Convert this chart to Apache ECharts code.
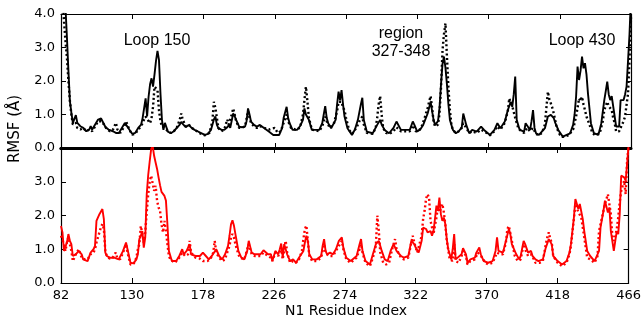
<!DOCTYPE html>
<html>
<head>
<meta charset="utf-8">
<script src="https://cdn.jsdelivr.net/npm/echarts@6.0.0/dist/echarts.min.js"></script>
<style>
  html, body { margin: 0; padding: 0; background: #fff; }
  #chart { width: 644px; height: 320px; }
</style>
</head>
<body>
<div id="chart"></div>
<script>
// residue ticks on the shared x axis
const residueTicks = [82, 130, 178, 226, 274, 322, 370, 418, 466]
const rmsfTicks = [0, 1, 2, 3, 4]

// top panel (black): [residue, RMSF in Å]
const topSolid = [[82,5.5],[84,4.8],[85,4.2],[86,3.3],[87,2.3],[88,1.4],[89,1.05],[90,0.75],[91,0.75],[92,0.98],[93,0.75],[94,0.8],[95,0.65],[97,0.6],[99,0.5],[101,0.55],[102,0.65],[103,0.55],[105,0.7],[107,0.85],[109,0.88],[110,0.85],[112,0.62],[114,0.55],[117,0.5],[119,0.45],[121,0.45],[123,0.6],[125,0.75],[126,0.8],[128,0.55],[130,0.42],[132,0.45],[134,0.6],[136,0.7],[137,0.9],[139,1.48],[140,0.94],[141,1.53],[142,1.9],[143,2.08],[144,1.83],[145,2.2],[146,2.6],[147,2.9],[148,2.63],[149,1.63],[150,0.84],[151,0.54],[152,0.75],[153,0.79],[154,0.49],[156,0.44],[158,0.5],[160,0.6],[162,0.7],[163,0.78],[164,0.72],[166,0.62],[168,0.69],[170,0.6],[172,0.54],[174,0.5],[176,0.45],[179,0.39],[181,0.42],[183,0.54],[185,0.85],[186,0.94],[187,0.7],[188,0.59],[190,0.55],[192,0.54],[194,0.62],[195,0.68],[196,0.6],[198,1.03],[199,0.95],[200,0.84],[202,0.64],[204,0.62],[206,0.64],[207,0.8],[208,1.18],[209,1.0],[210,0.79],[212,0.69],[214,0.64],[216,0.69],[219,0.59],[222,0.49],[225,0.39],[229,0.39],[231,0.6],[232,0.9],[234,1.23],[235,0.9],[236,0.74],[238,0.54],[241,0.54],[243,0.65],[245,0.84],[246,1.18],[247,1.0],[249,0.84],[251,0.54],[256,0.54],[258,0.74],[259,1.0],[260,1.25],[261,0.9],[262,0.74],[264,0.59],[267,0.84],[268,1.3],[269,1.68],[270,1.43],[271,1.73],[272,1.3],[273,0.94],[275,0.59],[278,0.39],[280,0.55],[282,0.84],[284,1.3],[285,1.5],[286,0.84],[288,0.49],[292,0.44],[295,0.69],[297,0.84],[298,0.7],[300,0.54],[303,0.44],[306,0.6],[308,0.79],[311,0.54],[317,0.54],[319,0.79],[320,0.7],[322,0.49],[324,0.55],[326,0.69],[329,1.03],[331,1.38],[332,1.1],[333,0.84],[334,0.69],[336,0.8],[337,1.2],[338,1.9],[339,2.5],[340,2.73],[341,2.4],[342,1.9],[343,1.3],[344,0.84],[346,0.54],[348,0.44],[350,0.5],[352,0.62],[353,1.03],[355,0.69],[357,0.44],[359,0.54],[362,0.49],[365,0.64],[367,0.54],[371,0.39],[374,0.54],[376,0.74],[378,0.59],[381,0.79],[383,1.13],[385,1.38],[386,1.23],[387,1.6],[388,2.13],[389,0.84],[391,0.54],[394,0.49],[395,0.74],[398,0.54],[399,0.8],[400,1.13],[401,0.6],[402,0.44],[404,0.39],[408,0.59],[410,0.94],[412,0.99],[414,0.89],[415,0.75],[417,0.54],[420,0.34],[425,0.44],[427,0.69],[428,1.0],[429,1.53],[430,2.43],[431,2.03],[432,2.3],[433,2.73],[434,2.38],[435,2.53],[436,2.2],[437,1.63],[439,0.74],[441,0.44],[444,0.39],[446,0.74],[448,1.43],[449,1.7],[450,1.98],[451,1.6],[452,1.43],[453,1.55],[455,0.94],[456,0.64],[458,0.64],[459,1.43],[461,1.43],[462,1.6],[463,1.83],[464,2.6],[465,3.4],[466,4.5]]

const topDotted = [[82,5.0],[83,4.5],[84,3.8],[85,3.2],[86,2.7],[87,2.0],[88,1.4],[89,1.0],[90,0.7],[91,0.65],[92,0.75],[93,0.6],[95,0.55],[97,0.6],[99,0.5],[101,0.55],[103,0.5],[105,0.65],[107,0.8],[109,0.8],[111,0.7],[113,0.55],[115,0.5],[117,0.55],[119,0.75],[120,0.55],[122,0.45],[124,0.6],[126,0.78],[128,0.55],[130,0.4],[132,0.42],[134,0.55],[136,0.65],[138,0.85],[139,0.94],[140,0.9],[141,0.8],[142,0.74],[143,0.89],[144,1.23],[145,1.83],[146,1.88],[147,1.73],[148,1.13],[149,0.8],[150,0.64],[152,0.6],[154,0.5],[156,0.45],[158,0.5],[160,0.6],[162,0.85],[163,1.03],[164,0.85],[166,0.65],[168,0.7],[170,0.6],[172,0.55],[175,0.45],[179,0.38],[182,0.45],[184,0.8],[185,1.38],[186,1.2],[187,0.9],[188,0.6],[190,0.5],[192,0.55],[194,0.85],[195,0.7],[196,0.65],[197,1.0],[198,1.18],[199,1.0],[200,0.8],[202,0.6],[204,0.6],[206,0.65],[208,1.1],[209,0.9],[210,0.75],[212,0.65],[214,0.6],[216,0.65],[219,0.6],[222,0.55],[224,0.58],[226,0.6],[228,0.45],[230,0.5],[232,0.75],[234,1.0],[235,0.8],[237,0.6],[240,0.55],[243,0.6],[245,1.0],[246,1.43],[247,1.83],[248,1.4],[249,0.9],[251,0.55],[256,0.5],[258,0.65],[260,0.94],[261,0.8],[263,0.6],[266,0.75],[268,1.1],[269,1.38],[271,1.38],[272,1.2],[273,1.13],[274,0.9],[276,0.55],[278,0.42],[281,0.6],[283,0.8],[285,0.94],[286,0.7],[288,0.45],[292,0.42],[294,0.6],[295,0.9],[296,1.3],[297,1.55],[298,1.0],[299,0.6],[301,0.45],[303,0.42],[306,0.5],[308,0.62],[311,0.5],[317,0.5],[319,0.68],[321,0.5],[323,0.5],[325,0.65],[327,0.9],[329,1.2],[331,1.55],[332,1.2],[333,0.8],[334,0.64],[336,0.7],[337,1.03],[338,1.8],[339,2.9],[340,3.4],[341,3.72],[342,2.73],[343,1.8],[344,1.13],[345,0.7],[346,0.54],[348,0.45],[350,0.5],[352,0.6],[353,0.74],[355,0.6],[357,0.45],[359,0.5],[362,0.45],[365,0.55],[367,0.5],[371,0.38],[374,0.5],[376,0.65],[378,0.55],[381,0.75],[383,1.1],[384,1.48],[385,1.35],[386,1.25],[387,1.2],[388,0.9],[390,0.6],[392,0.5],[394,0.45],[396,0.6],[398,0.5],[400,0.6],[402,0.42],[404,0.38],[406,0.45],[408,0.7],[409,1.2],[410,1.68],[411,1.45],[412,1.33],[413,1.2],[414,1.03],[416,0.6],[418,0.4],[420,0.33],[424,0.38],[427,0.55],[429,0.94],[430,1.2],[431,1.48],[432,1.4],[433,1.53],[434,1.3],[435,1.13],[436,0.94],[438,0.7],[440,0.45],[442,0.38],[445,0.45],[447,0.8],[448,1.13],[450,1.38],[451,1.25],[453,1.13],[454,0.9],[455,0.74],[456,0.49],[458,0.5],[459,0.54],[461,0.8],[462,0.94],[464,1.63],[465,2.63],[466,3.9]]

// bottom panel (red)
const bottomSolid = [[82,1.69],[83,1.5],[84,0.95],[86,1.2],[87,1.45],[88,1.25],[89,1.15],[90,0.8],[92,0.85],[94,0.95],[96,0.85],[97,0.7],[100,0.65],[102,0.9],[104,1.0],[105,1.1],[106,1.84],[108,2.04],[110,2.19],[111,1.89],[112,0.9],[113,0.8],[115,0.75],[118,0.75],[121,0.7],[124,0.95],[126,1.2],[127,1.0],[129,0.6],[131,0.58],[133,0.7],[134,0.85],[135,1.3],[136,1.4],[137,1.54],[138,1.05],[139,1.35],[140,2.63],[141,3.2],[142,3.6],[143,3.97],[144,4.07],[145,3.77],[146,3.57],[147,3.38],[148,3.13],[149,2.9],[150,2.7],[151,2.68],[152,2.58],[153,2.44],[154,1.74],[155,0.95],[157,0.65],[160,0.65],[162,0.8],[163,0.9],[164,1.0],[165,0.85],[167,0.95],[168,0.9],[169,1.15],[170,0.85],[173,0.8],[176,0.8],[178,0.9],[180,0.8],[182,0.7],[184,0.8],[187,1.0],[189,0.8],[191,0.7],[193,0.85],[195,1.1],[196,1.4],[197,1.74],[198,1.86],[199,1.7],[200,1.45],[202,0.95],[204,0.75],[206,0.7],[208,0.95],[209,1.25],[211,0.9],[213,0.85],[217,0.85],[219,0.97],[222,0.85],[224,0.85],[225,0.65],[227,0.95],[229,0.85],[230,1.0],[231,1.17],[232,0.75],[233,1.15],[235,0.85],[237,0.65],[239,0.7],[241,0.6],[243,0.75],[246,0.95],[247,1.2],[248,1.4],[249,1.25],[250,0.85],[252,0.7],[255,0.7],[258,0.8],[259,1.1],[260,1.3],[261,0.95],[262,0.85],[264,0.9],[266,0.85],[268,1.0],[270,1.25],[272,1.35],[273,1.05],[275,0.75],[278,0.65],[282,0.8],[284,1.15],[285,1.3],[286,0.95],[288,0.65],[291,0.55],[293,0.85],[295,1.15],[297,1.25],[299,0.95],[301,0.7],[303,0.65],[305,0.95],[307,1.15],[309,0.95],[312,0.8],[314,0.75],[317,0.8],[319,1.25],[321,1.15],[322,1.05],[324,0.9],[326,1.25],[327,1.64],[329,1.6],[330,1.5],[332,1.54],[333,1.4],[334,1.54],[335,1.9],[336,2.29],[337,2.14],[338,2.53],[339,2.04],[340,1.84],[341,1.94],[342,1.75],[343,1.3],[344,1.0],[345,0.85],[346,0.7],[347,1.0],[348,1.45],[349,0.7],[350,0.65],[353,0.85],[354,1.03],[356,0.85],[357,0.6],[359,0.7],[362,0.75],[363,0.9],[365,1.05],[366,0.85],[368,0.65],[371,0.6],[374,0.65],[376,0.95],[377,1.35],[378,0.95],[381,0.9],[383,1.25],[385,1.6],[386,1.45],[387,1.15],[390,0.85],[392,0.7],[393,0.8],[395,1.25],[396,1.15],[398,0.9],[400,0.95],[401,0.8],[403,0.7],[405,0.65],[408,0.7],[410,1.05],[412,1.3],[414,1.15],[415,0.8],[418,0.65],[421,0.55],[424,0.65],[426,0.9],[427,1.15],[429,1.94],[430,2.49],[432,2.19],[433,2.34],[435,1.89],[436,1.54],[438,0.95],[440,0.8],[443,0.65],[444,0.6],[446,0.95],[447,1.64],[449,2.14],[450,2.44],[452,2.09],[453,2.24],[454,1.54],[456,0.95],[457,1.25],[458,1.54],[459,1.45],[460,2.04],[461,3.18],[463,3.13],[464,3.03],[465,3.52],[466,4.1]]

const bottomDotted = [[82,1.4],[83,1.35],[84,1.15],[85,0.95],[86,1.2],[87,1.35],[88,1.15],[89,0.95],[90,0.65],[92,0.85],[94,1.0],[96,0.75],[98,0.7],[100,0.7],[102,0.85],[104,0.9],[105,1.0],[106,1.2],[107,1.35],[108,1.5],[109,1.65],[110,1.75],[111,1.6],[112,0.95],[113,0.8],[115,0.72],[117,0.75],[119,0.9],[120,0.75],[122,0.7],[124,0.9],[126,1.15],[127,0.9],[129,0.55],[131,0.55],[133,0.75],[134,1.0],[135,1.15],[136,1.69],[137,1.45],[138,1.2],[139,1.5],[140,2.1],[141,2.63],[142,3.0],[143,3.18],[144,3.13],[145,2.73],[146,2.88],[147,2.44],[148,2.24],[149,2.14],[150,1.74],[151,1.5],[152,1.84],[153,1.54],[154,1.15],[155,0.8],[156,0.7],[159,0.6],[162,0.75],[164,0.9],[166,0.8],[168,0.85],[169,1.25],[170,0.9],[173,0.75],[176,0.72],[178,0.65],[179,0.6],[181,0.65],[183,0.7],[185,0.9],[186,1.25],[187,0.9],[189,0.75],[191,0.65],[193,0.7],[194,0.85],[196,1.1],[197,1.35],[198,1.45],[199,1.35],[200,1.15],[202,0.85],[203,0.75],[206,0.7],[208,1.0],[209,1.15],[211,0.85],[213,0.8],[217,0.8],[219,0.9],[222,0.8],[224,0.75],[225,0.65],[227,0.9],[229,0.8],[231,1.05],[232,0.7],[234,1.25],[235,0.9],[237,0.6],[239,0.65],[241,0.6],[243,0.7],[245,0.95],[246,1.3],[247,1.6],[248,1.7],[249,1.25],[250,0.8],[252,0.65],[255,0.65],[258,0.75],[260,1.15],[261,0.9],[263,0.8],[266,0.8],[268,0.95],[270,1.1],[272,1.25],[273,1.0],[275,0.7],[278,0.6],[282,0.75],[284,1.0],[285,1.15],[286,0.9],[288,0.6],[291,0.5],[293,0.75],[295,1.1],[296,2.0],[297,1.55],[298,0.9],[300,0.6],[302,0.55],[304,0.6],[306,1.0],[308,1.3],[309,1.0],[312,0.75],[314,0.7],[317,0.75],[319,1.2],[320,1.4],[321,1.2],[323,0.9],[324,0.85],[326,1.4],[327,1.9],[328,2.14],[329,2.5],[330,2.63],[331,2.53],[332,1.84],[334,1.45],[335,1.7],[336,1.94],[337,2.24],[338,2.1],[339,2.2],[340,2.34],[341,2.1],[342,1.74],[343,1.25],[345,0.7],[347,0.65],[348,1.15],[349,0.65],[351,0.6],[353,0.8],[354,0.95],[356,0.8],[357,0.55],[359,0.65],[362,0.7],[364,0.9],[365,0.95],[367,0.75],[369,0.6],[371,0.55],[374,0.6],[376,0.8],[377,0.9],[379,0.85],[381,0.85],[383,1.2],[384,1.6],[385,1.69],[386,1.69],[387,1.25],[389,0.8],[391,0.65],[393,0.7],[395,1.15],[396,1.0],[398,0.8],[400,0.85],[402,0.7],[403,0.6],[406,0.6],[408,0.65],[410,1.15],[411,1.35],[412,1.5],[413,1.3],[414,1.2],[415,0.8],[418,0.6],[421,0.5],[424,0.6],[426,0.85],[427,1.1],[429,1.9],[430,2.34],[432,2.1],[433,2.15],[434,1.94],[436,1.35],[438,0.75],[440,0.7],[443,0.6],[444,0.62],[445,0.8],[446,1.54],[448,1.94],[450,2.34],[452,2.63],[454,2.04],[455,1.4],[456,1.25],[457,1.4],[458,1.6],[459,1.94],[460,2.4],[461,2.73],[463,3.03],[464,2.63],[465,3.62],[466,4.05]]

const chart = echarts.init(document.getElementById('chart'), null, { renderer: 'canvas' })

const tickFont = { fontFamily: 'DejaVu Sans', fontSize: 13, color: '#000' }
const noteFont = '16px "Liberation Sans"'

function xAxisFor(gridIndex, position, labels, lineWidth) {
  return {
    type: 'value',
    gridIndex,
    position,
    min: 82,
    max: 466,
    axisLine: { show: true, onZero: false, lineStyle: { color: '#000', width: lineWidth } },
    axisTick: { show: true, inside: true, length: 5, customValues: residueTicks, lineStyle: { color: '#000', width: 1 } },
    axisLabel: { show: labels, customValues: residueTicks, margin: 6, ...tickFont },
    splitLine: { show: false },
  }
}

function yAxisFor(gridIndex, position, labels, hideTop) {
  return {
    type: 'value',
    gridIndex,
    position,
    min: 0,
    max: 4,
    interval: 1,
    axisLine: { show: true, onZero: false, lineStyle: { color: '#000', width: 1.2 } },
    axisTick: { show: true, inside: true, length: 5, lineStyle: { color: '#000', width: 1 } },
    axisLabel: {
      show: labels,
      margin: 6,
      ...tickFont,
      formatter: (v) => (hideTop && v === 4 ? '' : v.toFixed(1)),
    },
    splitLine: { show: false },
  }
}

function line(data, xi, yi, color, dotted) {
  return {
    type: 'line',
    xAxisIndex: xi,
    yAxisIndex: yi,
    data,
    showSymbol: false,
    symbol: 'none',
    clip: true,
    lineStyle: dotted
      ? { color, width: 2.4, type: [2, 2.6] }
      : { color, width: 1.9 },
    z: dotted ? 3 : 2,
  }
}

const option = {
  animation: false,
  backgroundColor: '#fff',
  grid: [
    { left: 61, right: 13, top: 14, height: 134 },
    { left: 61, right: 13, top: 148, height: 135 },
  ],
  xAxis: [
    xAxisFor(0, 'bottom', false, 3),
    xAxisFor(0, 'top', false, 1.2),
    xAxisFor(1, 'bottom', true, 1.2),
    xAxisFor(1, 'top', false, 3),
  ],
  yAxis: [
    yAxisFor(0, 'left', true, false),
    yAxisFor(0, 'right', false, false),
    yAxisFor(1, 'left', true, true),
    yAxisFor(1, 'right', false, false),
  ],
  series: [
    line(topSolid, 0, 0, '#000', false),
    line(topDotted, 0, 0, '#000', true),
    line(bottomSolid, 2, 2, '#ff0000', false),
    line(bottomDotted, 2, 2, '#ff0000', true),
  ],
  graphic: [
    { type: 'text', x: 157, y: 41, style: { text: 'Loop 150', font: noteFont, fill: '#000', textAlign: 'center', textVerticalAlign: 'middle' } },
    { type: 'text', x: 401, y: 34, style: { text: 'region', font: noteFont, fill: '#000', textAlign: 'center', textVerticalAlign: 'middle' } },
    { type: 'text', x: 401, y: 52, style: { text: '327-348', font: noteFont, fill: '#000', textAlign: 'center', textVerticalAlign: 'middle' } },
    { type: 'text', x: 582, y: 41, style: { text: 'Loop 430', font: noteFont, fill: '#000', textAlign: 'center', textVerticalAlign: 'middle' } },
    { type: 'text', x: 346, y: 311, style: { text: 'N1 Residue Index', font: '14px "DejaVu Sans"', fill: '#000', textAlign: 'center', textVerticalAlign: 'middle' } },
    { type: 'text', x: 15, y: 129, rotation: Math.PI / 2, style: { text: 'RMSF (Å)', font: '15px "DejaVu Sans"', fill: '#000', textAlign: 'center', textVerticalAlign: 'middle' } },
  ],
}

chart.setOption(option)
</script>
</body>
</html>
